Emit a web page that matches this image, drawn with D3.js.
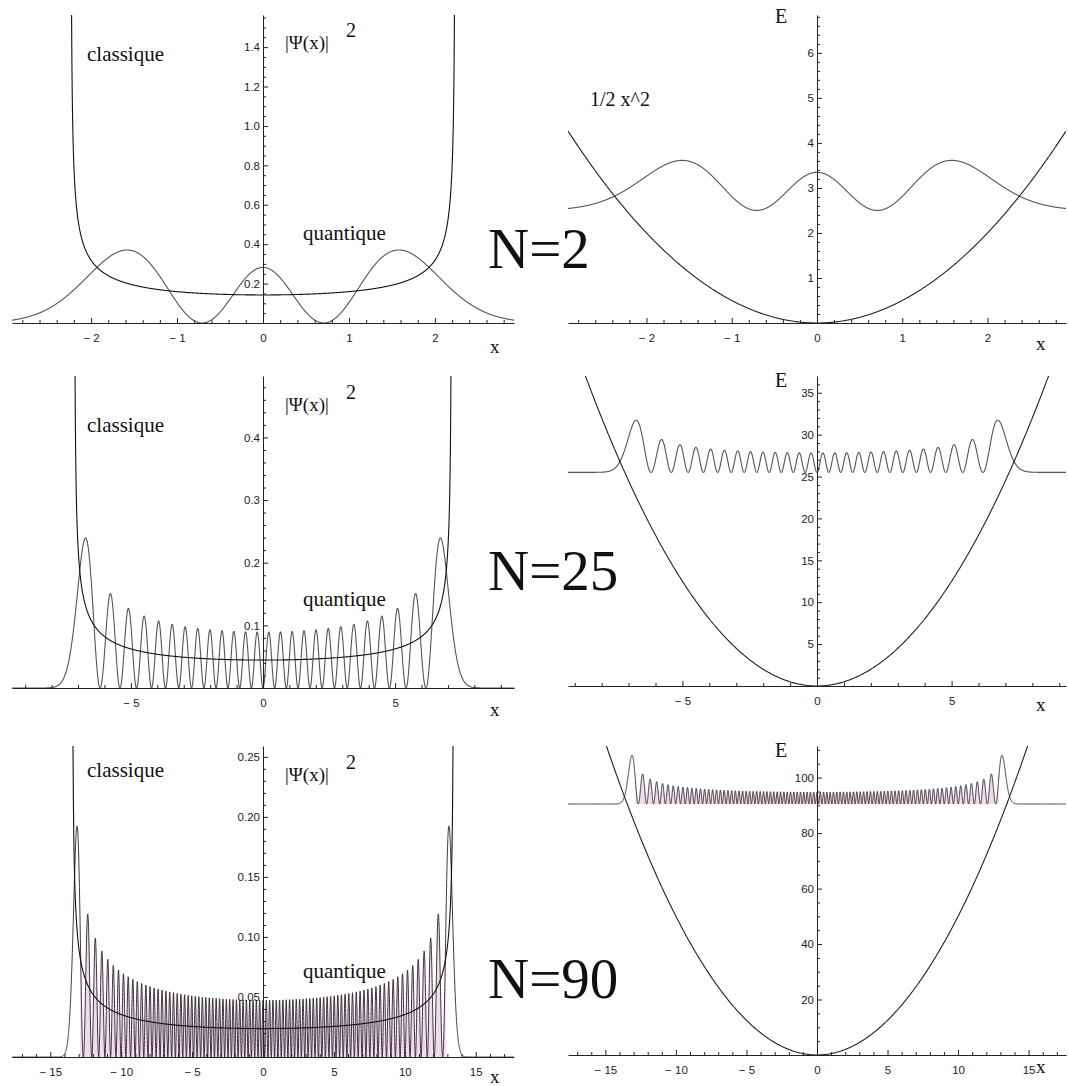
<!DOCTYPE html>
<html>
<head>
<meta charset="utf-8">
<script src="https://cdn.jsdelivr.net/npm/d3@7"></script>
<style>
  body { margin: 0; background: #fff; }
  .tick text { font-family: "Liberation Sans", Arial, sans-serif; font-size: 11.5px; fill: #222; }
  .label { font-family: "Liberation Serif", "Times New Roman", serif; fill: #111; }
</style>
</head>
<body>
<div id="chart"></div>
<script>
// quantum number and energy of each row
var levels = [2, 25, 90];
var energies = [2.5, 25.5, 90.5];
var rowNames = ["N=2", "N=25", "N=90"];

// plot ranges
var densityXMax = [2.92, 9.5, 17.7];
var densityYMax = [1.563, 0.498, 0.259];
var potentialXMax = [2.92, 9.25, 17.65];
var potentialYMax = [6.84, 37.0, 111.4];

// |psi|^2 drawn on the energy line is stretched by this factor
var waveScale = [3, 26, 91];

// tick values
var xTicks = [[-2, -1, 0, 1, 2], [-5, 0, 5], [-15, -10, -5, 0, 5, 10, 15]];
var xMinorStep = [0.2, 1, 1];
var densityYTicks = [[0.2, 0.4, 0.6, 0.8, 1.0, 1.2, 1.4], [0.1, 0.2, 0.3, 0.4], [0.05, 0.10, 0.15, 0.20, 0.25]];
var densityYMinor = [0.05, 0.02, 0.01];
var densityYFormat = [".1f", ".1f", ".2f"];
var potentialYTicks = [[1, 2, 3, 4, 5, 6], [5, 10, 15, 20, 25, 30, 35], [20, 40, 60, 80, 100]];
var potentialYMinor = [0.2, 1, 5];

// page layout
var svgWidth = 1068;
var svgHeight = 1086;
var leftCol = { x0: 12, x1: 514 };
var rightCol = { x0: 568, x1: 1066 };
var rowAxisY = [[323, 323], [688, 686], [1057, 1055]];
var rowTopY = [15, 376, 746];

var svg = d3.select("#chart")
    .append("svg")
    .attr("width", svgWidth)
    .attr("height", svgHeight)
    .style("display", "block");

// normalised harmonic oscillator eigenfunction, squared
function psiSquared(n, x) {
    var p0 = Math.pow(Math.PI, -0.25) * Math.exp(-x * x / 2);
    if (n === 0) return p0 * p0;
    var p1 = Math.SQRT2 * x * p0;
    for (var k = 1; k < n; k++) {
        var p2 = Math.sqrt(2 / (k + 1)) * x * p1 - Math.sqrt(k / (k + 1)) * p0;
        p0 = p1;
        p1 = p2;
    }
    return p1 * p1;
}

function xFormat(d) {
    return d < 0 ? "\u2212 " + Math.abs(d) : String(d);
}

function drawAxes(g, x, y, xt, xStep, xMax, yt, yStep, yMax, yFmt) {
    var x0 = y(0);
    var xMinor = d3.range(-Math.floor(xMax / xStep) * xStep, xMax, xStep).filter(function (v) {
        return xt.every(function (m) { return Math.abs(m - v) > xStep / 4; });
    });

    // x axis: minor ticks + line, then major ticks with labels
    g.append("g")
        .attr("transform", `translate(0,${x0})`)
        .attr("color", "#222")
        .call(d3.axisBottom(x).tickValues(xMinor).tickSize(-3).tickSizeOuter(0).tickFormat(""));
    var xMajor = g.append("g")
        .attr("transform", `translate(0,${x0})`)
        .attr("color", "#222")
        .call(d3.axisBottom(x).tickValues(xt).tickSize(-5).tickPadding(11).tickFormat(xFormat));
    xMajor.select(".domain").remove();

    // y axis through x = 0
    var yMinor = d3.range(yStep, yMax, yStep).filter(function (v) {
        return yt.every(function (m) { return Math.abs(m - v) > yStep / 4; });
    });
    g.append("g")
        .attr("transform", `translate(${x(0)},0)`)
        .attr("color", "#222")
        .call(d3.axisLeft(y).tickValues(yMinor).tickSize(-3).tickSizeOuter(0).tickFormat(""));
    var yMajor = g.append("g")
        .attr("transform", `translate(${x(0)},0)`)
        .attr("color", "#222")
        .call(d3.axisLeft(y).tickValues(yt).tickSize(-5).tickPadding(3).tickFormat(yFmt));
    yMajor.select(".domain").remove();
}

function addClip(id, x, y) {
    svg.append("clipPath")
        .attr("id", id)
        .append("rect")
        .attr("x", x.range()[0])
        .attr("y", y.range()[1])
        .attr("width", x.range()[1] - x.range()[0])
        .attr("height", y.range()[0] - y.range()[1] + 1);
}

function label(text, x, y, size) {
    return svg.append("text")
        .attr("class", "label")
        .attr("x", x)
        .attr("y", y)
        .style("font-size", size + "px")
        .text(text);
}

var classiqueY = [61, 432, 777];
var quantiqueY = [240, 606, 978];
var psiLabelY = [49, 411, 781];
var rowNameY = [268, 590, 998];
var eLabelY = [23, 387, 757];
var xLabelLeftY = [353, 716, 1083];
var xLabelRightY = [350, 711, 1073];

levels.forEach(function (n, i) {
    var E = energies[i];
    var turn = Math.sqrt(2 * E);
    var dense = i === 2;

    // ---------- left: probability densities ----------
    var xL = d3.scaleLinear()
        .domain([-densityXMax[i], densityXMax[i]])
        .range([leftCol.x0, leftCol.x1]);
    var yL = d3.scaleLinear()
        .domain([0, densityYMax[i]])
        .range([rowAxisY[i][0], rowTopY[i]]);
    addClip("clipL" + i, xL, yL);

    var gL = svg.append("g");
    var curvesL = gL.append("g").attr("clip-path", `url(#clipL${i})`);

    var stepL = densityXMax[i] / 3000;
    var quantum = d3.range(-densityXMax[i], densityXMax[i] + stepL / 2, stepL).map(function (x) {
        return [x, psiSquared(n, x)];
    });

    if (dense) {
        curvesL.append("path")
            .datum(quantum.filter(d => Math.abs(d[0]) < 12.9))
            .attr("fill", "#f1dcee")
            .attr("d", d3.area().x(d => xL(d[0])).y0(yL(0)).y1(d => yL(d[1])));
    }
    curvesL.append("path")
        .datum(quantum)
        .attr("fill", "none")
        .attr("stroke", dense ? "#2a1f28" : "#555")
        .attr("stroke-width", dense ? 0.9 : 1.1)
        .attr("d", d3.line().x(d => xL(d[0])).y(d => yL(d[1])));

    var classical = d3.range(-1, 1.0001, 0.0005).map(function (s) {
        var t = s * Math.PI / 2 * 0.99999;
        var x = turn * Math.sin(t);
        return [x, Math.min(1 / (Math.PI * turn * Math.cos(t)), densityYMax[i] * 3)];
    });
    curvesL.append("path")
        .datum(classical)
        .attr("fill", "none")
        .attr("stroke", "#111")
        .attr("stroke-width", 1.1)
        .attr("d", d3.line().x(d => xL(d[0])).y(d => yL(d[1])));

    drawAxes(gL, xL, yL, xTicks[i], xMinorStep[i], densityXMax[i],
        densityYTicks[i], densityYMinor[i], densityYMax[i], d3.format(densityYFormat[i]));

    label("classique", 87, classiqueY[i], 21);
    label("quantique", 303, quantiqueY[i], 21);
    label("|\u03A8(x)|", 285, psiLabelY[i], 19);
    label("2", 346, psiLabelY[i] - 12, 20);
    label("x", 490, xLabelLeftY[i], 19);
    label(rowNames[i], 488, rowNameY[i], 57);

    // ---------- right: potential and level ----------
    var xR = d3.scaleLinear()
        .domain([-potentialXMax[i], potentialXMax[i]])
        .range([rightCol.x0, rightCol.x1]);
    var yR = d3.scaleLinear()
        .domain([0, potentialYMax[i]])
        .range([rowAxisY[i][1], rowTopY[i]]);
    addClip("clipR" + i, xR, yR);

    var gR = svg.append("g");
    var curvesR = gR.append("g").attr("clip-path", `url(#clipR${i})`);

    var stepR = potentialXMax[i] / 3000;
    var level = d3.range(-potentialXMax[i], potentialXMax[i] + stepR / 2, stepR).map(function (x) {
        return [x, E + waveScale[i] * psiSquared(n, x)];
    });
    if (dense) {
        curvesR.append("path")
            .datum(level.filter(d => Math.abs(d[0]) < 12.9))
            .attr("fill", "#f1dcee")
            .attr("d", d3.area().x(d => xR(d[0])).y0(yR(E)).y1(d => yR(d[1])));
    }
    curvesR.append("path")
        .datum(level)
        .attr("fill", "none")
        .attr("stroke", dense ? "#2a1f28" : "#555")
        .attr("stroke-width", dense ? 0.9 : 1.1)
        .attr("d", d3.line().x(d => xR(d[0])).y(d => yR(d[1])));

    var potential = d3.range(-potentialXMax[i], potentialXMax[i] + stepR / 2, stepR * 10).map(function (x) {
        return [x, x * x / 2];
    });
    curvesR.append("path")
        .datum(potential)
        .attr("fill", "none")
        .attr("stroke", "#222")
        .attr("stroke-width", 1.1)
        .attr("d", d3.line().x(d => xR(d[0])).y(d => yR(d[1])));

    drawAxes(gR, xR, yR, xTicks[i], xMinorStep[i], potentialXMax[i],
        potentialYTicks[i], potentialYMinor[i], potentialYMax[i], d3.format("d"));

    label("E", 775, eLabelY[i], 20);
    label("x", 1036, xLabelRightY[i], 19);
});

label("1/2 x^2", 590, 106, 20);
</script>
</body>
</html>
